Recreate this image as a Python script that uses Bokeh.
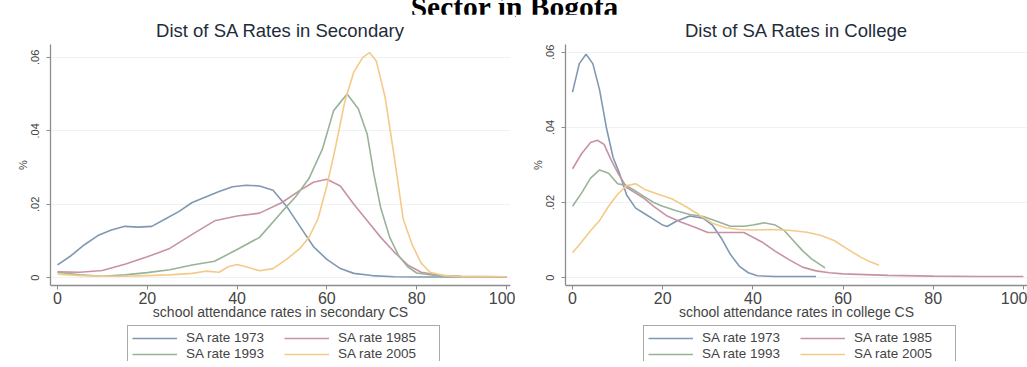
from bokeh.plotting import figure
from bokeh.models import (Legend, LegendItem, FixedTicker, CustomJSTickFormatter,
                          Range1d, Div)
from bokeh.layouts import row, column
from bokeh.embed import file_html
from bokeh.resources import INLINE

# ---------------- data ----------------
series_names = ["SA rate 1973", "SA rate 1985", "SA rate 1993", "SA rate 2005"]

# Secondary
sec_1973_x = [0, 3, 6, 9, 12, 15, 18, 21, 24, 27, 30, 33, 36, 39, 42, 45, 48, 51, 54, 57, 60, 63, 66, 70, 75, 80, 90, 100]
sec_1973_y = [0.0035, 0.006, 0.009, 0.0115, 0.013, 0.014, 0.0138, 0.014, 0.016, 0.018, 0.0205, 0.022, 0.0235, 0.0248,
              0.0252, 0.0250, 0.0238, 0.0195, 0.014, 0.0085, 0.005, 0.0025, 0.0012, 0.0006, 0.0003, 0.0002, 0.0002, 0.0002]

sec_1985_x = [0, 5, 10, 15, 20, 25, 30, 35, 40, 45, 50, 54, 57, 60, 63, 66, 69, 72, 75, 78, 81, 85, 90, 100]
sec_1985_y = [0.0016, 0.0015, 0.002, 0.0037, 0.0057, 0.008, 0.0118, 0.0155, 0.0168, 0.0176, 0.0205, 0.0238, 0.026,
              0.0268, 0.025, 0.020, 0.0155, 0.011, 0.007, 0.0035, 0.0015, 0.0007, 0.0004, 0.0003]

sec_1993_x = [0, 5, 10, 15, 20, 25, 30, 35, 40, 45, 50, 53, 56, 59, 61.5, 64.5, 67, 69, 70.5, 72, 74, 76, 78, 80, 85, 90, 100]
sec_1993_y = [0.0015, 0.0008, 0.0004, 0.0008, 0.0014, 0.0022, 0.0035, 0.0045, 0.0077, 0.011, 0.018, 0.022, 0.027,
              0.035, 0.0455, 0.050, 0.046, 0.039, 0.028, 0.019, 0.011, 0.006, 0.003, 0.0013, 0.0005, 0.0003, 0.0003]

sec_2005_x = [0, 5, 10, 15, 20, 25, 30, 33, 36, 38, 40, 42, 45, 48, 51, 54, 56, 58, 60, 62, 64, 66, 68, 69.5, 71, 73,
              75, 77, 79, 81, 83, 86, 90, 100]
sec_2005_y = [0.001, 0.0006, 0.0004, 0.0004, 0.0006, 0.0008, 0.0012, 0.0018, 0.0015, 0.003, 0.0036, 0.003, 0.0019,
              0.0025, 0.005, 0.008, 0.011, 0.016, 0.025, 0.036, 0.048, 0.056, 0.060, 0.0613, 0.059, 0.049, 0.033,
              0.016, 0.009, 0.004, 0.0015, 0.0006, 0.0003, 0.0003]

# College
col_1973_x = [0, 1.5, 3, 4.5, 6, 7.5, 9, 10.5, 12, 14, 16, 18, 20, 21, 23, 26, 29, 31, 33, 35, 37, 39, 41, 45, 50, 54]
col_1973_y = [0.0494, 0.057, 0.0595, 0.057, 0.050, 0.040, 0.032, 0.0275, 0.022, 0.0185, 0.017, 0.0155, 0.014, 0.0136,
              0.015, 0.0164, 0.0158, 0.014, 0.0105, 0.0062, 0.003, 0.0013, 0.0005, 0.0003, 0.0003, 0.0003]

col_1985_x = [0, 2, 4, 5.5, 7, 8.5, 10, 12, 14, 16, 18, 21, 24, 27, 30, 34, 38, 42, 45, 48, 51, 54, 57, 60, 65, 70,
              80, 90, 100]
col_1985_y = [0.029, 0.033, 0.036, 0.0366, 0.0355, 0.0315, 0.028, 0.024, 0.0225, 0.021, 0.019, 0.0164, 0.0148, 0.0135,
              0.012, 0.012, 0.012, 0.0095, 0.007, 0.0048, 0.0028, 0.0018, 0.0013, 0.001, 0.0008, 0.0006, 0.0004,
              0.0003, 0.0003]

col_1993_x = [0, 2, 4, 6, 8, 10, 12, 14, 16, 18, 20, 23, 26, 29, 32, 35, 38, 40, 42.5, 45, 47, 49, 51, 53, 56]
col_1993_y = [0.019, 0.0225, 0.0265, 0.0287, 0.0278, 0.025, 0.0245, 0.023, 0.0215, 0.020, 0.019, 0.0178, 0.0168,
              0.0163, 0.015, 0.0137, 0.0137, 0.014, 0.0146, 0.014, 0.0125, 0.0098, 0.0072, 0.005, 0.0026]

col_2005_x = [0, 2, 4, 6, 8, 10, 12, 14, 16, 19, 22, 25, 28, 31, 34, 37, 40, 44, 48, 52, 55, 58, 61, 64, 66, 68]
col_2005_y = [0.0066, 0.0095, 0.0125, 0.0152, 0.019, 0.0222, 0.0245, 0.025, 0.0235, 0.0222, 0.021, 0.019, 0.0168,
              0.0145, 0.0133, 0.0128, 0.0127, 0.0128, 0.0126, 0.0121, 0.0113, 0.0099, 0.0076, 0.0054, 0.0042, 0.0033]

x_ticks = [0, 20, 40, 60, 80, 100]
y_ticks = [0, 0.02, 0.04, 0.06]

colors = ["#8198b3", "#c793a3", "#98b397", "#f4ca88"]
FONT = "Liberation Sans"

sec_series = [(sec_1973_x, sec_1973_y), (sec_1985_x, sec_1985_y),
              (sec_1993_x, sec_1993_y), (sec_2005_x, sec_2005_y)]
col_series = [(col_1973_x, col_1973_y), (col_1985_x, col_1985_y),
              (col_1993_x, col_1993_y), (col_2005_x, col_2005_y)]


def make_panel(title, xlabel, series, width, min_left, min_right, y_top):
    p = figure(width=width, height=310, output_backend="svg", toolbar_location=None,
               x_range=Range1d(-1.56, 100.9), y_range=Range1d(-0.0021, y_top),
               min_border_left=min_left, min_border_right=min_right, min_border_top=28,
               min_border_bottom=39)
    p.outline_line_color = None
    p.background_fill_color = "white"
    p.title.text = title
    p.title.align = "center"
    p.title.text_font = FONT
    p.title.text_font_size = "18.5px"
    p.title.text_font_style = "normal"
    p.title.text_color = "#1e2c3a"
    p.title.standoff = 7

    p.xgrid.grid_line_color = None
    p.ygrid.grid_line_color = "#eef2f5"
    p.ygrid.ticker = FixedTicker(ticks=y_ticks)

    p.xaxis.ticker = FixedTicker(ticks=x_ticks)
    p.yaxis.ticker = FixedTicker(ticks=y_ticks)
    p.yaxis.formatter = CustomJSTickFormatter(
        code="return tick == 0 ? '0' : tick.toFixed(2).replace(/^0/, '');")
    p.yaxis.major_label_orientation = "vertical"
    for ax in (p.xaxis, p.yaxis):
        ax.axis_line_color = "#8c8c8c"
        ax.axis_line_width = 1.3
        ax.major_tick_line_color = "#8c8c8c"
        ax.major_tick_out = 4
        ax.major_tick_in = 0
        ax.minor_tick_line_color = None
        ax.major_label_text_font = FONT
        ax.major_label_text_color = "#444444"
        ax.axis_label_text_font = FONT
        ax.axis_label_text_font_style = "normal"
        ax.axis_label_text_color = "#444444"
    p.xaxis.major_label_text_font_size = "16px"
    p.xaxis.axis_label_text_font_size = "14px"
    p.yaxis.major_label_text_font_size = "11px"
    p.yaxis.axis_label_text_font_size = "11px"
    p.xaxis.major_label_standoff = 2
    p.xaxis.axis_label_standoff = -3
    p.yaxis.major_label_standoff = 7
    p.yaxis.axis_label_standoff = 0
    p.xaxis.axis_label = xlabel
    p.yaxis.axis_label = "%"

    for (xs, ys), c in zip(series, colors):
        p.line(xs, ys, line_color=c, line_width=1.6)
    return p


def make_legend_fig(width, series, box_left):
    # the legend's own strip under each panel; its view range lies outside the data,
    # so only the legend samples of the lines show
    lf = figure(width=width, height=37, output_backend="svg", toolbar_location=None,
                x_range=Range1d(-3, -2), y_range=Range1d(-3, -2),
                x_axis_location=None, y_axis_location=None,
                min_border_left=0, min_border_right=0, min_border_top=0, min_border_bottom=0)
    lf.outline_line_color = None
    lf.xgrid.grid_line_color = None
    lf.ygrid.grid_line_color = None
    rs = [lf.line(xs, ys, line_color=c, line_width=1.6) for (xs, ys), c in zip(series, colors)]
    items = [LegendItem(label=n, renderers=[r]) for n, r in zip(series_names, rs)]
    legend = Legend(items=items, orientation="horizontal", ncols=2,
                    location=(box_left, -5), glyph_width=45, glyph_height=14,
                    label_text_font=FONT, label_text_font_size="13.5px", label_text_color="#444444",
                    padding=4, spacing=1, margin=0, label_standoff=9, label_width=97,
                    border_line_color="#555555", border_line_width=1,
                    background_fill_alpha=1.0)
    lf.add_layout(legend)
    return lf


p1 = make_panel("Dist of SA Rates in Secondary", "school attendance rates in secondary CS",
                sec_series, width=515, min_left=50, min_right=5, y_top=0.0635)
p2 = make_panel("Dist of SA Rates in College", "school attendance rates in college CS",
                col_series, width=512, min_left=50, min_right=0, y_top=0.0621)
l1 = make_legend_fig(515, sec_series, 77)
l2 = make_legend_fig(512, col_series, 78)

head = Div(text="<div style=\"margin-top:-31px; padding-left:7px; width:1012px; text-align:center; "
                "font: bold 29.5px 'Liberation Serif'; line-height:29.5px; white-space:nowrap; color:#000;\">"
                "Sector in Bogota</div>",
           width=1019, height=4)

layout = column(head, row(column(p1, l1), column(p2, l2)))

open("out.html", "w").write(file_html(layout, INLINE))
